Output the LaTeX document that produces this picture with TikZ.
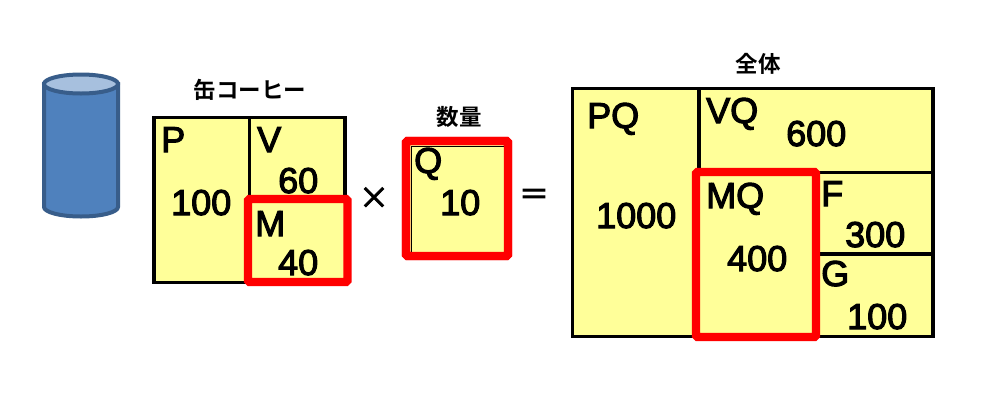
\documentclass[tikz,border=0pt]{standalone}
\usepackage{fontspec}
\setmainfont{Liberation Sans}
\newfontfamily\heavyfont{Liberation Sans}[FakeBold=3]
\newfontfamily\cjkfont{Noto Sans CJK JP}[BoldFont={* Bold}]
\newfontfamily\opfont{Noto Sans CJK JP}[FakeBold=3]
\definecolor{boxyellow}{HTML}{FFFF99}
\definecolor{canblue}{HTML}{4F81BD}
\definecolor{canedge}{HTML}{385D8A}
\definecolor{cantop}{HTML}{A7C0DE}
\tikzset{
  x=1pt,y=-1pt,
  cell/.style={draw=black,line width=3.4pt,fill=boxyellow,minimum width=#1,inner sep=0pt,outer sep=0pt,anchor=north west},
  hilite/.style={draw=red,line width=8.4pt,rounded corners=1.5pt,fill=boxyellow,inner sep=0pt,outer sep=0pt,anchor=north west},
  big/.style={anchor=base west,inner sep=0pt,font=\heavyfont\fontsize{36}{36}\selectfont},
  title/.style={inner sep=0pt,font=\cjkfont\bfseries\fontsize{22.5}{22.5}\selectfont},
  op/.style={inner sep=0pt,font=\opfont\fontsize{30}{30}\selectfont}
}
\begin{document}
\begin{tikzpicture}
\useasboundingbox (0,0) rectangle (993,405);
% can
\draw[canedge,line width=4pt,fill=canblue] (44,84) -- (44,207) arc[x radius=37,y radius=-9.5,start angle=180,end angle=360] -- (118,84) -- cycle;
\draw[canedge,line width=4pt,fill=cantop] (81,84) ellipse[x radius=37,y radius=9.5];
% first box
\node[cell=95.5pt,minimum height=165pt] (pbox) at (154,117.5) {};
\node[cell=95.5pt,minimum height=165pt] (vbox) at (249.5,117.5) {};
\node[hilite,minimum width=99.5pt,minimum height=83pt] (mbox) at (248,199) {};
% second box
\node[hilite,minimum width=102pt,minimum height=115pt] (qred) at (406,141) {};
\node[draw=black,line width=1.3pt,fill=boxyellow,inner sep=0pt,anchor=north west,minimum width=96pt,minimum height=110pt] (qbox) at (411,145.8) {};
\draw[red,line width=8.4pt,rounded corners=1.5pt] (qred.north west) rectangle (qred.south east);
% big box
\node[cell=127pt,minimum height=248pt] (pqbox) at (572.5,88.5) {};
\node[cell=234pt,minimum height=84pt] (vqbox) at (699,88.5) {};
\node[cell=115pt,minimum height=82pt] (fbox) at (818,172.5) {};
\node[cell=115pt,minimum height=82.5pt] (gbox) at (818,254) {};
\node[hilite,minimum width=120pt,minimum height=165pt] (mqbox) at (696,172) {};
% titles
\node[title] (t1) at (250,90) {缶コーヒー};
\node[title] (t2) at (459,117) {数量};
\node[title] (t3) at (758,64) {全体};
\node[op] (times) at (374,198) {×};
\node[op] (eq) at (534,197) {＝};
% labels
\node[big] (lp) at (161,152) {P};
\node[big] (lv) at (257,152) {V};
\node[big] (l60) at (278,193) {60};
\node[big] (l100) at (171,215) {100};
\node[big] (lm) at (255,236) {M};
\node[big] (l40) at (278,275) {40};
\node[big] (lq) at (414,173) {Q};
\node[big] (l10) at (440,215) {10};
\node[big] (lpq) at (587,128) {PQ};
\node[big] (l1000) at (596,228) {1000};
\node[big] (lvq) at (706,123) {VQ};
\node[big] (l600) at (786,146) {600};
\node[big] (lmq) at (706,208) {MQ};
\node[big] (l400) at (727,271) {400};
\node[big] (lf) at (821,206) {F};
\node[big] (l300) at (845,247) {300};
\node[big] (lg) at (821,286) {G};
\node[big] (lh) at (847,329) {100};
\end{tikzpicture}
\end{document}
